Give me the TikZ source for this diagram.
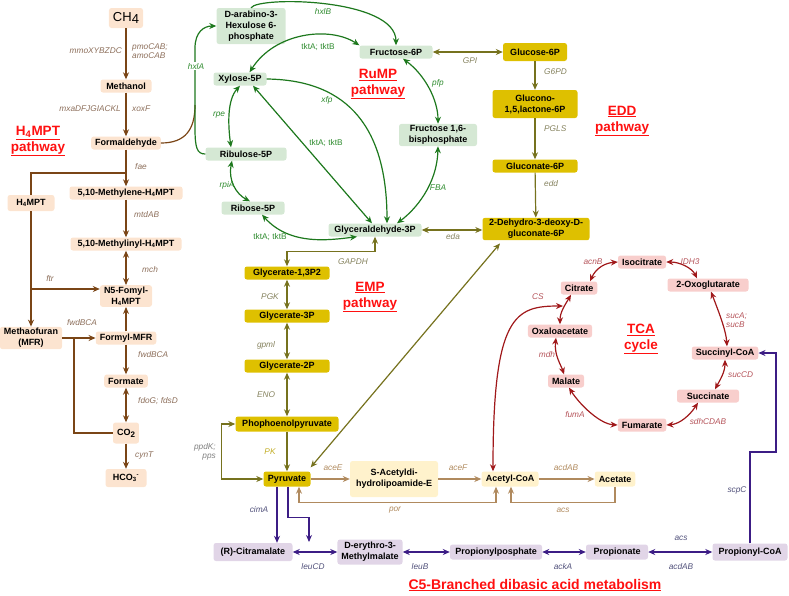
\documentclass[tikz,border=0pt]{standalone}
\usepackage{fontspec}
\setmainfont{Liberation Sans}
\usetikzlibrary{arrows.meta}
\definecolor{hfill}{HTML}{FCE4D0}
\definecolor{hdraw}{HTML}{7A4516}
\definecolor{htext}{HTML}{8C6E5A}
\definecolor{rfill}{HTML}{D5E8D4}
\definecolor{rdraw}{HTML}{1D781D}
\definecolor{rtext}{HTML}{2E8B2E}
\definecolor{efill}{HTML}{DEC000}
\definecolor{edraw}{HTML}{76721E}
\definecolor{etext}{HTML}{85825E}
\definecolor{tfill}{HTML}{F8CECC}
\definecolor{tdraw}{HTML}{A0181A}
\definecolor{ttext}{HTML}{B5545A}
\definecolor{afill}{HTML}{FFF2CC}
\definecolor{adraw}{HTML}{B08A5E}
\definecolor{atext}{HTML}{B08A5E}
\definecolor{cfill}{HTML}{E1D5E7}
\definecolor{cdraw}{HTML}{3C1D85}
\definecolor{ctext}{HTML}{50507A}
\definecolor{titlered}{HTML}{FF1010}
\begin{document}
\begin{tikzpicture}[x=1pt,y=-1pt,>={Stealth[length=7pt,width=6pt]},
  box/.style={rounded corners=2.5pt,inner xsep=4pt,inner ysep=1.5pt,minimum height=13pt,
    align=center,font=\fontsize{9}{11}\selectfont\bfseries},
  hbox/.style={box,fill=hfill},
  rbox/.style={box,fill=rfill},
  ebox/.style={box,fill=efill},
  tbox/.style={box,fill=tfill},
  abox/.style={box,fill=afill},
  cbox/.style={box,fill=cfill},
  lab/.style={inner sep=1pt,align=left,font=\fontsize{8.3}{9.5}\selectfont\itshape},
  hlab/.style={lab,text=htext},
  rlab/.style={lab,text=rtext},
  rlabup/.style={rlab,font=\fontsize{8.3}{9.5}\selectfont},
  elab/.style={lab,text=etext},
  tlab/.style={lab,text=ttext},
  alab/.style={lab,text=atext},
  clab/.style={lab,text=ctext},
  link/.style={line width=1.2pt},
  harr/.style={link,draw=hdraw,->},
  hline/.style={link,draw=hdraw},
  rarr/.style={link,draw=rdraw,->},
  earr/.style={link,draw=edraw,->},
  tarr/.style={link,draw=tdraw,->},
  aarr/.style={link,draw=adraw,->},
  carr/.style={link,draw=cdraw,->},
  ptitle/.style={align=center,text=titlered,font=\fontsize{13.5}{16}\selectfont\bfseries}]
  \useasboundingbox (0,0) rectangle (789,595);

  % H4MPT pathway
  \node[hbox,minimum width=34pt,minimum height=20pt,font=\fontsize{13}{15}\selectfont] (ch4) at (126,18) {CH\raisebox{-0.35ex}{4}};
  \node[hbox,minimum width=51pt] (meth) at (126,86) {Methanol};
  \node[hbox] (form) at (126,143) {Formaldehyde};
  \node[hbox,minimum width=113pt] (mthy) at (126,193) {5,10-Methylene-H\textsubscript{4}MPT};
  \node[hbox,minimum width=47pt,minimum height=16pt] (h4mpt) at (31,203) {H\textsubscript{4}MPT};
  \node[hbox,minimum width=111pt] (mthi) at (126,244) {5,10-Methylinyl-H\textsubscript{4}MPT};
  \node[hbox] (n5) at (126,296) {N5-Fomyl-\\H\textsubscript{4}MPT};
  \node[hbox] (mfr) at (31,338) {Methaofuran\\(MFR)};
  \node[hbox] (fmfr) at (126,338) {Formyl-MFR};
  \node[hbox] (formate) at (126,381) {Formate};
  \node[hbox,minimum width=24pt,minimum height=21pt] (co2) at (126,433) {CO\raisebox{-0.4ex}{\fontsize{8}{9}\selectfont 2}};
  \node[hbox,minimum width=41pt,minimum height=18pt] (hco3) at (126,478) {HCO\textsubscript{3}\textsuperscript{-}};

  % RuMP pathway
  \node[rbox,minimum width=69pt,minimum height=36pt] (arab) at (251,26) {D-arabino-3-\\Hexulose 6-\\phosphate};
  \node[rbox,minimum width=53pt] (xyl) at (240,79) {Xylose-5P};
  \node[rbox,minimum width=81pt] (ribu) at (246,154) {Ribulose-5P};
  \node[rbox,minimum width=63pt] (ribo) at (253,208) {Ribose-5P};
  \node[rbox,minimum width=73pt] (f6p) at (396,52) {Fructose-6P};
  \node[rbox,minimum width=78pt] (f16) at (438,135) {Fructose 1,6-\\bisphosphate};
  \node[rbox,minimum width=93pt] (gap) at (375,230) {Glyceraldehyde-3P};

  % EDD and EMP pathways
  \node[ebox,minimum width=64pt,minimum height=18pt] (g6p) at (535,52) {Glucose-6P};
  \node[ebox,minimum width=85pt,minimum height=28pt] (gl15) at (535,104) {Glucono-\\1,5,lactone-6P};
  \node[ebox,minimum width=85pt] (gn6p) at (535,166) {Gluconate-6P};
  \node[ebox,minimum width=107pt,minimum height=22pt] (kdpg) at (536,229) {2-Dehydro-3-deoxy-D-\\gluconate-6P};
  \node[ebox,minimum width=85pt] (bpg) at (287,273) {Glycerate-1,3P2};
  \node[ebox,minimum width=85pt] (g3p) at (287,316) {Glycerate-3P};
  \node[ebox,minimum width=85pt] (g2p) at (287,366) {Glycerate-2P};
  \node[ebox,minimum width=103pt,minimum height=15pt] (pep) at (287,424) {Phophoenolpyruvate};
  \node[ebox,minimum width=47pt,minimum height=15pt] (pyr) at (287,479) {Pyruvate};

  % acetyl-CoA
  \node[abox,minimum width=88pt,minimum height=36pt] (sacet) at (394,479) {S-Acetyldi-\\hydrolipoamide-E};
  \node[abox,minimum width=57pt,minimum height=15pt] (acoa) at (510,479) {Acetyl-CoA};
  \node[abox,minimum width=40pt,minimum height=15pt] (acetate) at (615,479) {Acetate};

  % TCA cycle
  \node[tbox] (cit) at (579,288) {Citrate};
  \node[tbox] (isoc) at (642,262) {Isocitrate};
  \node[tbox,minimum width=81pt] (oxog) at (708,285) {2-Oxoglutarate};
  \node[tbox] (oaa) at (560,331) {Oxaloacetate};
  \node[tbox] (mal) at (566,381) {Malate};
  \node[tbox] (succoa) at (725,353) {Succinyl-CoA};
  \node[tbox,minimum width=62pt] (succ) at (708,396) {Succinate};
  \node[tbox] (fum) at (642,425) {Fumarate};

  % C5-branched dibasic acid metabolism
  \node[cbox,minimum width=79pt,minimum height=18pt] (citm) at (253,552) {(R)-Citramalate};
  \node[cbox,minimum width=65pt,minimum height=25pt] (mema) at (370,552) {D-erythro-3-\\Methylmalate};
  \node[cbox,minimum width=92pt,minimum height=15pt] (pp) at (496,552) {Propionylposphate};
  \node[cbox,minimum width=62pt,minimum height=15pt] (prop) at (617,552) {Propionate};
  \node[cbox,minimum width=75pt,minimum height=17pt] (pcoa) at (750,552) {Propionyl-CoA};

  % titles
  \node[ptitle] (th4) at (38,141) {\underline{H\textsubscript{4}MPT}\\\underline{pathway}};
  \node[ptitle] (trump) at (378,84) {\underline{RuMP}\\\underline{pathway}};
  \node[ptitle] (tedd) at (622,121) {\underline{EDD}\\\underline{pathway}};
  \node[ptitle] (temp) at (370,297) {\underline{EMP}\\\underline{pathway}};
  \node[ptitle] (ttca) at (641,339) {\underline{TCA}\\\underline{cycle}};
  \node[ptitle,font=\fontsize{14}{16}\selectfont\bfseries] (tc5) at (535,585) {\underline{C5-Branched dibasic acid metabolism}};

  % H4MPT connectors
  \draw[harr] (ch4) -- (meth);
  \draw[harr] (meth) -- (form);
  \draw[harr] (form) -- (mthy);
  \coordinate (faej) at (126,173);
  \draw[hline] (faej) -| (h4mpt.north);
  \draw[harr] (mthy) -- (mthi);
  \draw[harr,<->] (mthi) -- (n5);
  \draw[harr] (h4mpt) -- (mfr);
  \coordinate (ftrj) at (31,289);
  \draw[harr] (ftrj) -- (ftrj -| n5.west);
  \draw[harr] (mfr) -- (fmfr);
  \coordinate (mfrj) at (74,338);
  \draw[hline] (co2.west) -| (mfrj);
  \draw[harr] (fmfr) -- (n5);
  \draw[harr] (fmfr) -- (formate);
  \draw[harr,<->] (formate) -- (co2);
  \draw[harr] (co2) -- (hco3);
  \coordinate (hxlj) at (195,105);
  \draw[hline] (form.east) .. controls (185,143) and (195,130) .. (hxlj);

  % RuMP connectors
  \draw[rarr] (ribu.west) .. controls (197,154) and (195,148) .. (195,128) -- (195,48) .. controls (195,32) and (204,26) .. (arab.west);
  \draw[rarr] (arab.north) .. controls (258,-4) and (396,-2) .. (f6p.north);
  \draw[rarr,<->] (f6p.north west) .. controls (330,26) and (275,32) .. (xyl.35);
  \draw[rarr] (xyl.east) .. controls (350,80) and (387,130) .. ([xshift=12pt]gap.north);
  \draw[rarr,<->] ([xshift=13pt]xyl.south) -- ([xshift=-3pt]gap.north);
  \draw[rarr,<->] (xyl.south) .. controls (227,100) and (228,125) .. ([xshift=-15pt]ribu.north);
  \draw[rarr,<->] ([xshift=-14pt]ribu.south) .. controls (228,180) and (236,194) .. ([xshift=-3pt]ribo.north);
  \draw[rarr,<->] ([xshift=9pt]ribo.south) .. controls (290,246) and (330,240) .. ([xshift=-18pt]gap.south);
  \draw[rarr,<->] ([xshift=7pt]f6p.south) .. controls (425,75) and (438,100) .. (f16.north);
  \draw[rarr,<->] (f16.south) .. controls (437,185) and (415,210) .. ([xshift=22pt]gap.north);

  % EDD and EMP connectors
  \draw[earr,<->] (f6p) -- (g6p);
  \draw[earr] (g6p) -- (gl15);
  \draw[earr] (gl15) -- (gn6p);
  \draw[earr] (gn6p) -- (kdpg);
  \draw[earr,<->] (gap.east) -- (gap.east -| kdpg.west);
  \draw[earr,<->] ([yshift=4pt]pyr.north east) -- ([xshift=-36pt,yshift=-3pt]kdpg.south);
  \draw[earr,<->] (gap.south) -- ++(0,15) -| (bpg.north);
  \draw[earr,<->] (bpg) -- (g3p);
  \draw[earr,<->] (g3p) -- (g2p);
  \draw[earr,<->] (g2p) -- (pep);
  \draw[earr] (pep) -- (pyr);
  \draw[earr,<->] (pyr.west) -- ++(-42,0) |- (pep.west);

  % acetyl-CoA connectors
  \draw[aarr] (pyr) -- (sacet);
  \draw[aarr] (sacet) -- (acoa);
  \draw[aarr] (acoa) -- (acetate);
  \draw[aarr] (acetate.south) -- ++(0,16) -| ([xshift=1pt]acoa.south);
  \draw[aarr,<->] ([xshift=12pt]pyr.south) -- ++(0,15.5) -| ([xshift=-14pt]acoa.south);

  % TCA connectors
  \coordinate (csj) at (563,306);
  \draw[tarr,<->] ([xshift=-17pt]acoa.north) .. controls (493,315) and (515,306) .. (csj);
  \draw[tarr,<->] ([xshift=11pt]cit.north) .. controls (596,268) and (605,263) .. (isoc.west);
  \draw[tarr,<->] (isoc.east) .. controls (680,262) and (692,268) .. ([xshift=-11pt]oxog.north);
  \draw[tarr,<->] ([xshift=3pt]oxog.south) .. controls (718,310) and (726,330) .. ([xshift=2pt]succoa.north);
  \draw[tarr,<->] (succoa.south) .. controls (725,372) and (720,380) .. ([xshift=7pt]succ.north);
  \draw[tarr,<->] ([xshift=-10pt]succ.south) .. controls (690,415) and (680,424) .. (fum.east);
  \draw[tarr,<->] ([xshift=3pt]mal.south) .. controls (580,405) and (600,424) .. (fum.west);
  \draw[tarr,<->] ([xshift=-4pt]oaa.south) .. controls (554,355) and (561,365) .. ([xshift=-2pt]mal.north);
  \draw[tarr,<->] ([xshift=-8pt]cit.south) .. controls (565,305) and (560,312) .. (oaa.north);

  % C5 connectors
  \draw[carr] ([xshift=-10pt]pyr.south) -- ([xshift=24pt]citm.north);
  \coordinate (leuj) at (309,542);
  \draw[carr] ([xshift=1pt]pyr.south) -- ++(0,31) -| (leuj);
  \draw[carr,<->] (citm) -- (mema);
  \draw[carr,<->] (mema) -- (pp);
  \draw[carr,<->] (pp) -- (prop);
  \draw[carr,<->] (prop) -- (pcoa);
  \coordinate (scpj) at (776,452);
  \draw[carr] (pcoa.north) |- (scpj) |- (succoa.east);

  % enzyme labels
  \node[hlab,anchor=east] (l1) at (123,51) {mmoXYBZDC};
  \node[hlab,anchor=west] (l2) at (131,51) {pmoCAB;\\amoCAB};
  \node[hlab,anchor=east] (l3) at (122,109) {mxaDFJGIACKL};
  \node[hlab,anchor=west] (l4) at (131,109) {xoxF};
  \node[hlab,anchor=west] (l5) at (134,167) {fae};
  \node[hlab,anchor=west] (l6) at (133,215) {mtdAB};
  \node[hlab,anchor=west] (l7) at (141,270) {mch};
  \node[hlab] (l8) at (50,279) {ftr};
  \node[hlab] (l9) at (82,323) {fwdBCA};
  \node[hlab,anchor=west] (l10) at (137,355) {fwdBCA};
  \node[hlab,anchor=west] (l11) at (137,401) {fdoG; fdsD};
  \node[hlab,anchor=west] (l12) at (134,455) {cynT};

  \node[rlab,fill=white] (l13) at (196,66) {hxlA};
  \node[rlab] (l14) at (323,11) {hxlB};
  \node[rlabup] (l15) at (318,47) {tktA; tktB};
  \node[rlab] (l16) at (327,100) {xfp};
  \node[rlabup] (l17) at (326,143) {tktA; tktB};
  \node[rlab] (l18) at (219,115) {rpe};
  \node[rlab] (l19) at (227,185) {rpiA};
  \node[rlabup] (l20) at (270,237) {tktA; tktB};
  \node[rlab] (l21) at (438,83) {pfp};
  \node[rlab] (l22) at (438,188) {FBA};

  \node[elab] (l23) at (470,61) {GPI};
  \node[elab,anchor=west] (l24) at (543,72) {G6PD};
  \node[elab,anchor=west] (l25) at (543,129) {PGLS};
  \node[elab,anchor=west] (l26) at (543,184) {edd};
  \node[elab] (l27) at (453,237) {eda};
  \node[elab] (l28) at (353,262) {GAPDH};
  \node[elab] (l29) at (270,297) {PGK};
  \node[elab] (l30) at (266,345) {gpml};
  \node[elab] (l31) at (266,395) {ENO};
  \node[elab,text=efill!70!gray] (l32) at (270,452) {PK};
  \node[elab,text=gray,anchor=east,align=right] (l33) at (217,452) {ppdK;\\pps};

  \node[alab] (l34) at (333,468) {aceE};
  \node[alab] (l35) at (458,468) {aceF};
  \node[alab] (l36) at (566,468) {acdAB};
  \node[alab] (l37) at (563,510) {acs};
  \node[alab] (l38) at (395,510) {por};

  \node[tlab] (l39) at (538,297) {CS};
  \node[tlab] (l40) at (593,262) {acnB};
  \node[tlab] (l41) at (690,262) {IDH3};
  \node[tlab,anchor=west] (l42) at (725,320) {sucA;\\sucB};
  \node[tlab,anchor=west] (l43) at (727,375) {sucCD};
  \node[tlab] (l44) at (708,422) {sdhCDAB};
  \node[tlab] (l45) at (575,415) {fumA};
  \node[tlab] (l46) at (547,355) {mdh};

  \node[clab] (l47) at (259,510) {cimA};
  \node[clab] (l48) at (313,567) {leuCD};
  \node[clab] (l49) at (420,567) {leuB};
  \node[clab] (l50) at (563,567) {ackA};
  \node[clab] (l51) at (681,538) {acs};
  \node[clab] (l52) at (681,567) {acdAB};
  \node[clab] (l53) at (737,490) {scpC};
\end{tikzpicture}
\end{document}
